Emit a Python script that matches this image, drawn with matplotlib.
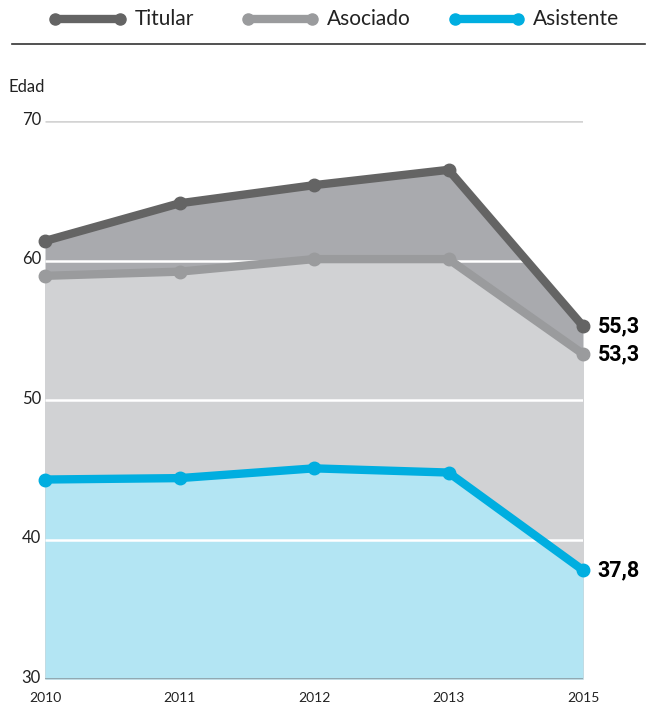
import matplotlib.pyplot as plt
from matplotlib.lines import Line2D

# data
years = ["2010", "2011", "2012", "2013", "2015"]
titular = [61.4, 64.1, 65.4, 66.5, 55.3]
asociado = [58.9, 59.2, 60.1, 60.1, 53.3]
asistente = [44.3, 44.4, 45.1, 44.8, 37.8]
end_labels = ["55,3", "53,3", "37,8"]
yticks = [30, 40, 50, 60, 70]

plt.rcParams["font.family"] = ["Lato", "DejaVu Sans"]

series = [
    ("Titular", titular, "#646464", "#a9aaae"),
    ("Asociado", asociado, "#9a9b9d", "#d1d2d4"),
    ("Asistente", asistente, "#00aee0", "#b3e5f3"),
]

fig = plt.figure(figsize=(6.58, 7.06), dpi=100)
ax = fig.add_axes([45 / 658, 1 - 679 / 706, 538 / 658, 558 / 706])

x = list(range(len(years)))
ymin, ymax = 30, 70

for i, (name, vals, lc, fc) in enumerate(series):
    ax.fill_between(x, ymin, vals, color=fc, lw=0, zorder=1 + i)

# grid lines drawn over the fills
for yv in yticks[1:-1]:
    ax.hlines(yv, 0, 4, color="white", lw=1.8, zorder=5)
ax.hlines(70, 0, 4, color="#d3d3d3", lw=1.8, zorder=5)
ax.hlines(30, 0, 4, color="#8b9ea6", lw=1.2, zorder=5)

for name, vals, lc, fc in series:
    ax.plot(x, vals, color=lc, lw=6, solid_capstyle="round",
            solid_joinstyle="round", zorder=6, clip_on=False)
    ax.plot(x, vals, "o", color=lc, ms=9, zorder=7, clip_on=False)

for (name, vals, lc, fc), lab in zip(series, end_labels):
    ax.text(4 + 0.11, vals[-1], lab, fontsize=15.5, fontweight="bold",
            ha="left", va="center", color="black",
            family=["Roboto", "DejaVu Sans"])

ax.set_xlim(0, 4)
ax.set_ylim(ymin, ymax)
for s in ax.spines.values():
    s.set_visible(False)
ax.set_xticks([])
ax.set_yticks([])

for xi, yr in zip(x, years):
    ax.text(xi, 28.65, yr, fontsize=10, ha="center", va="center",
            color="#222222")
for yv in yticks:
    ax.text(-0.03, yv + 0.1, str(yv), fontsize=12, ha="right", va="center",
            color="#222222")

fig.text(8 / 658, 1 - 87 / 706, "Edad", fontsize=12, ha="left", va="center",
         color="#222222")

# legend
leg_y = 1 - 19 / 706
legend_items = [(55, 120, 135), (248, 312, 327), (455, 518, 533)]
for (name, vals, lc, fc), (x0, x1, tx) in zip(series, legend_items):
    fig.add_artist(Line2D([x0 / 658, x1 / 658], [leg_y, leg_y], color=lc,
                          lw=6, solid_capstyle="round"))
    fig.add_artist(Line2D([x0 / 658, x1 / 658], [leg_y, leg_y], color=lc,
                          lw=0, marker="o", ms=8))
    fig.text(tx / 658, leg_y, name, fontsize=15, ha="left", va="center",
             color="#222222")

fig.add_artist(Line2D([12 / 658, 645 / 658], [1 - 44 / 706, 1 - 44 / 706],
                      color="#333333", lw=1.2))

fig.savefig("out.png", dpi=100)
